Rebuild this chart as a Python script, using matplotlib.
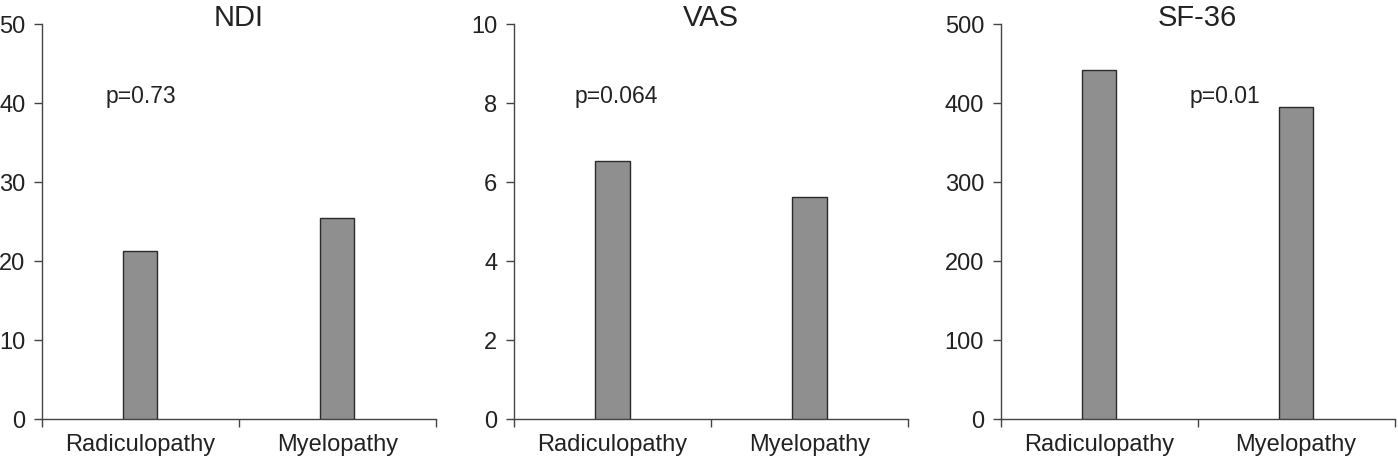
import matplotlib
matplotlib.use('Agg')
import matplotlib.pyplot as plt

plt.rcParams['font.family'] = ['Liberation Sans', 'DejaVu Sans']

# Data
groups = ['Radiculopathy', 'Myelopathy']
titles = ['NDI', 'VAS', 'SF-36']
ndi = [21.3, 25.4]
vas = [6.53, 5.61]
sf36 = [442, 395]
ymax = [50, 10, 500]
ystep = [10, 2, 100]
p_labels = ['p=0.73', 'p=0.064', 'p=0.01']
p_x = [0.0, 0.02, 0.64]
p_y = [40, 8, 400]

series = [ndi, vas, sf36]
lefts = [0.0300, 0.3677, 0.7158]
width = 0.2818
bottom = 0.0871
height = 0.8606

fig = plt.figure(figsize=(13.98, 4.59), dpi=100)

for i in range(3):
    ax = fig.add_axes([lefts[i], bottom, width, height])
    ax.bar(range(len(groups)), series[i], width=0.173, color='#8f8f8f',
           edgecolor='#2a2a2a', linewidth=1.0, zorder=3)
    ax.set_xlim(-0.5, 1.5)
    ax.set_ylim(0, ymax[i])
    ax.set_yticks(range(0, ymax[i] + 1, ystep[i]))
    ax.set_xticks([0, 1])
    ax.set_xticklabels(groups)
    # tick marks sit between the categories, not under them
    ax.set_xticks([-0.5, 0.5, 1.5], minor=True)
    ax.tick_params(axis='x', which='major', length=0, pad=11, labelsize=17, labelcolor='#222222')
    ax.tick_params(axis='x', which='minor', length=6, width=1, color='#444444', direction='out')
    ax.tick_params(axis='y', length=6, width=1, color='#444444', pad=6, labelsize=17, labelcolor='#222222')
    for s in ['top', 'right']:
        ax.spines[s].set_visible(False)
    for s in ['left', 'bottom']:
        ax.spines[s].set_color('#444444')
        ax.spines[s].set_linewidth(1.0)
    ax.text(0.5, 0.995, titles[i], transform=ax.transAxes, ha='center', va='baseline',
            fontsize=21, color='#222222')
    ax.text(p_x[i], p_y[i], p_labels[i], ha='center', va='baseline', fontsize=16.5, color='#222222')

plt.savefig('out.png', dpi=100)
